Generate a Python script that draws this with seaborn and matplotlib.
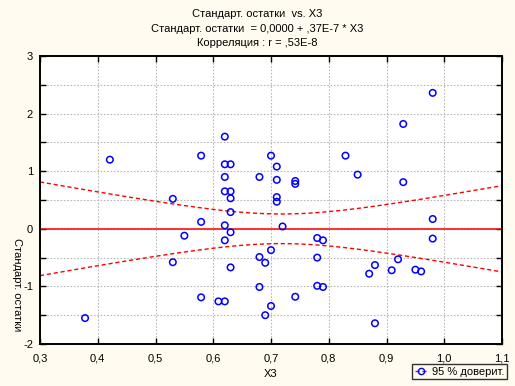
import numpy as np
import pandas as pd
import matplotlib
matplotlib.use('Agg')
import matplotlib.pyplot as plt
from matplotlib.lines import Line2D
from matplotlib.ticker import MultipleLocator, FuncFormatter
import seaborn as sns

# data
x3 = [0.378, 0.421, 0.530, 0.530, 0.550, 0.579, 0.579, 0.579, 0.609, 0.620,
      0.620, 0.620, 0.630, 0.620, 0.620, 0.630, 0.630, 0.630, 0.620, 0.630,
      0.620, 0.630, 0.680, 0.680, 0.680, 0.690, 0.690, 0.700, 0.700, 0.700,
      0.710, 0.710, 0.710, 0.710, 0.720, 0.742, 0.742, 0.742, 0.780, 0.790,
      0.780, 0.780, 0.790, 0.829, 0.850, 0.870, 0.880, 0.880, 0.909, 0.920,
      0.929, 0.929, 0.950, 0.960, 0.980, 0.980, 0.980]
resid = [-1.55, 1.20, 0.52, -0.58, -0.12, 1.27, 0.12, -1.19, -1.26, -1.26,
         1.60, 1.12, 1.12, 0.90, 0.65, 0.65, 0.53, 0.29, 0.06, -0.06,
         -0.20, -0.67, 0.90, -0.49, -1.01, -0.59, -1.50, 1.27, -0.37, -1.34,
         1.08, 0.85, 0.55, 0.47, 0.04, 0.83, 0.78, -1.18, -0.16, -0.20,
         -0.50, -0.99, -1.01, 1.27, 0.94, -0.78, -0.63, -1.64, -0.72, -0.53,
         1.82, 0.81, -0.71, -0.74, 2.36, 0.17, -0.17]
b0, b1 = 0.0, 0.37e-7   # fitted line from the title

df = pd.DataFrame({'X3': x3, 'resid': resid})

# 95% confidence band of the regression line
xs = np.linspace(0.3, 1.1, 161)
x = df['X3'].values
n = len(x)
s = np.sqrt(np.sum((df['resid'].values - (b0 + b1 * x)) ** 2) / (n - 2))
sxx = np.sum((x - x.mean()) ** 2)
half = 2.004 * s * np.sqrt(1.0 / n + (xs - x.mean()) ** 2 / sxx)
band = pd.DataFrame({'x': xs, 'fit': b0 + b1 * xs, 'lo': b0 + b1 * xs - half, 'hi': b0 + b1 * xs + half})

plt.rcParams['font.family'] = ['Liberation Sans', 'DejaVu Sans']
plt.rcParams['font.size'] = 8

fig = plt.figure(figsize=(5.15, 3.86), dpi=100, facecolor='#fffbf0')
ax = fig.add_axes([40/515, 1-344/386, 462/515, 288/386])
ax.set_facecolor('white')

sns.lineplot(x='x', y='fit', data=band, color='red', lw=1.1, ax=ax)
sns.lineplot(x='x', y='lo', data=band, color='red', lw=1, ax=ax)
ax.lines[-1].set_dashes((3, 2))
sns.lineplot(x='x', y='hi', data=band, color='red', lw=1, ax=ax)
ax.lines[-1].set_dashes((3, 2))
sns.scatterplot(x='X3', y='resid', data=df, marker='o', s=22, facecolor='none',
                edgecolor='blue', linewidth=1.1, ax=ax, zorder=5)

ax.set_xlim(0.3, 1.1)
ax.set_ylim(-2, 3)
ax.xaxis.set_major_locator(MultipleLocator(0.1))
ax.yaxis.set_major_locator(MultipleLocator(0.5))
ax.xaxis.set_major_formatter(FuncFormatter(lambda v, p: f"{v:.1f}".replace('.', ',')))
ax.yaxis.set_major_formatter(FuncFormatter(lambda v, p: f"{int(round(v))}" if abs(v - round(v)) < 1e-6 else ''))
ax.grid(True, color='#b8b8b8', ls=(0, (1.5, 1.5)), lw=0.8)
ax.set_axisbelow(True)
ax.tick_params(direction='in', length=4, width=1, top=True, right=True,
               labelsize=8, colors='black')
ax.tick_params(axis='x', pad=7)
ax.tick_params(axis='y', pad=5)
for sp in ax.spines.values():
    sp.set_linewidth(1.4)
    sp.set_color('black')
ax.set_xlabel('')
ax.set_ylabel('')

fig.text(257/515, 1-14/386, 'Стандарт. остатки  vs. X3', ha='center', va='center', fontsize=8)
fig.text(257/515, 1-28.5/386, 'Стандарт. остатки  = 0,0000 + ,37E-7 * X3', ha='center', va='center', fontsize=8)
fig.text(257/515, 1-43/386, 'Корреляция : r = ,53E-8', ha='center', va='center', fontsize=8)
fig.text(271/515, 1-374/386, 'X3', ha='center', va='center', fontsize=8)
fig.text(17/515, 1-238/386, 'Стандарт. остатки', ha='center', va='top', rotation=270, fontsize=8)

h = Line2D([], [], color='red', ls=(0, (3, 2)), lw=1, marker='o', mfc='none', mec='blue', ms=4.5)
leg = fig.legend([h], ['95 % доверит.'], loc='lower right', bbox_to_anchor=(513/515, 1/386),
                 frameon=True, fancybox=False, edgecolor='black', fontsize=8,
                 handlelength=1.2, borderpad=0.25, handletextpad=0.4)
leg.get_frame().set_linewidth(1)
leg.get_frame().set_facecolor('#fffbf0')

fig.savefig('out.png', dpi=100, facecolor=fig.get_facecolor())
